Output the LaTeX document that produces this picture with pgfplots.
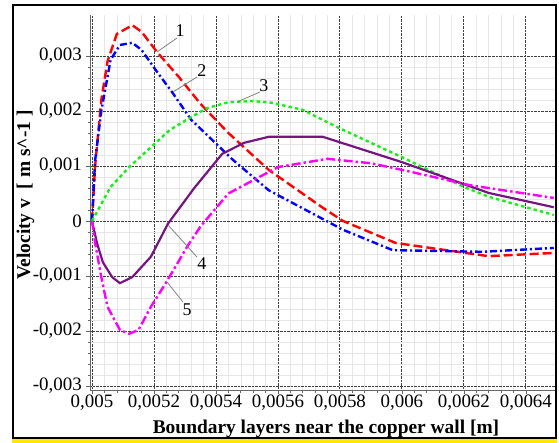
\documentclass[border=0pt]{standalone}
\usepackage{fontspec}
\setmainfont{Liberation Serif}
\usepackage{pgfplots}
\pgfplotsset{compat=1.18}
\definecolor{purp}{RGB}{118,20,128}
\definecolor{grn}{RGB}{30,235,30}
\definecolor{mag}{RGB}{250,0,250}
\begin{document}
\begin{tikzpicture}
\path[use as bounding box] (0,0) rectangle (559bp,443bp);
\fill[yellow!90!orange] (12bp,0.5bp) rectangle (557bp,3.5bp);
\draw[line width=2bp] (13bp,5bp) rectangle (556bp,438bp);
\begin{axis}[
  at={(90bp,53bp)}, anchor=south west, scale only axis,
  width=465bp, height=375bp,
  xmin=0.0049935, xmax=0.006494,
  ymin=-0.0030727, ymax=0.003745,
  axis x line*=bottom, axis y line*=left,
  axis line style={-, draw=gray!80!black, line width=0.8bp},
  scaled ticks=false,
  xtick={0.005,0.0052,0.0054,0.0056,0.0058,0.006,0.0062,0.0064},
  xticklabels={{0,005},{0,0052},{0,0054},{0,0056},{0,0058},{0,006},{0,0062},{0,0064}},
  ytick={-0.003,-0.002,-0.001,0,0.001,0.002,0.003},
  yticklabels={{-0,003},{-0,002},{-0,001},{0},{0,001},{0,002},{0,003}},
  minor x tick num=4, minor y tick num=4,
  tick align=outside,
  major tick length=4bp, minor tick length=2.5bp,
  tick style={gray!80!black, line width=0.6bp},
  tick label style={font=\fontsize{19}{22}\selectfont},
  xticklabel style={inner sep=1bp},
  yticklabel style={inner sep=4bp},
  grid=both,
  major grid style={black!75, densely dotted, line width=0.9bp},
  minor grid style={black!10, line width=0.5bp},
  xlabel={Boundary layers near the copper wall [m]},
  ylabel={Velocity v~~[ m s\textasciicircum-1 ]},
  label style={font=\fontsize{19.5}{22}\selectfont\bfseries},
  xlabel style={at={(rel axis cs:0.5075,-0.1147)}, anchor=base},
  ylabel style={at={(rel axis cs:-0.129,0.52)}, anchor=base, rotate=0},
]
% 1
\addplot[red, line width=2.4bp, dash pattern=on 9bp off 4bp] coordinates {
 (0.005,0) (0.00501,0.0010) (0.00503,0.0022) (0.00505,0.0029) (0.00508,0.0034)
 (0.00513,0.00356) (0.00516,0.00344) (0.00521,0.00307) (0.00528,0.00262)
 (0.00535,0.00213) (0.00544,0.0016) (0.00557,0.00093) (0.005745,0.00024)
 (0.00581,0.0) (0.00598,-0.0004) (0.00628,-0.00064) (0.00649,-0.00058)
};
% 2
\addplot[blue, line width=2.4bp, dash pattern=on 7bp off 3bp on 2bp off 3bp] coordinates {
 (0.005,0) (0.00501,0.0011) (0.00503,0.0020) (0.00506,0.00293) (0.00509,0.0032)
 (0.00513,0.00324) (0.00516,0.00311) (0.00521,0.00271) (0.00526,0.00233)
 (0.00532,0.00184) (0.005455,0.00111) (0.00557,0.00056) (0.00581,-0.00016)
 (0.00597,-0.00053) (0.00626,-0.00056) (0.00649,-0.00049)
};
% 3
\addplot[grn, line width=2.4bp, dash pattern=on 3.5bp off 3bp] coordinates {
 (0.005,0) (0.00506,0.00062) (0.00512,0.00098) (0.00525,0.00165) (0.00532,0.00189)
 (0.00537,0.00205) (0.00544,0.00216) (0.00552,0.00218) (0.00558,0.00215)
 (0.00568,0.00202) (0.00579,0.00171) (0.0060,0.00116) (0.0062,0.00062)
 (0.00628,0.00044) (0.00649,0.00011)
};
% 4
\addplot[purp, line width=2.2bp] coordinates {
 (0.005,0) (0.005016,-0.0004) (0.005035,-0.00075) (0.005065,-0.00102) (0.00509,-0.00113)
 (0.00513,-0.00102) (0.00519,-0.00065) (0.005245,-0.00005) (0.00533,0.0006)
 (0.00542,0.00122) (0.00549,0.00142) (0.00557,0.00153) (0.005745,0.00153) (0.006,0.00107)
 (0.00628,0.00051) (0.00649,0.00025)
};
% 5
\addplot[mag, line width=2.4bp, dash pattern=on 9bp off 3bp on 2.5bp off 3bp] coordinates {
 (0.005,0) (0.00501,-0.0004) (0.00503,-0.00102) (0.00505,-0.00156) (0.00509,-0.00198)
 (0.00512,-0.00205) (0.00515,-0.00198) (0.00519,-0.00156) (0.00524,-0.00111)
 (0.00531,-0.00044) (0.00535,-0.0001) (0.00544,0.0005) (0.0056,0.00098)
 (0.00576,0.00113) (0.0059,0.00105) (0.006,0.00093) (0.00622,0.00065) (0.00649,0.00042)
};
% curve numbers
\begin{scope}[gray, line width=0.8bp]
\draw (axis cs:0.0052097,0.003073) -- (axis cs:0.0052742,0.003327);
\draw (axis cs:0.0052613,0.002345) -- (axis cs:0.0053387,0.002618);
\draw (axis cs:0.0054677,0.002164) -- (axis cs:0.0055419,0.002345);
\draw (axis cs:0.0052452,-0.0000727) -- (axis cs:0.0053387,-0.000655);
\draw (axis cs:0.0052419,-0.001109) -- (axis cs:0.0052935,-0.001473);
\end{scope}
\begin{scope}[every node/.style={font=\fontsize{18}{20}\selectfont, inner sep=0pt}]
\node at (axis cs:0.0052839,0.003455) {1};
\node at (axis cs:0.0053548,0.002727) {2};
\node at (axis cs:0.0055548,0.002455) {3};
\node at (axis cs:0.0053548,-0.000782) {4};
\node at (axis cs:0.0053065,-0.001618) {5};
\end{scope}
\end{axis}
\end{tikzpicture}
\end{document}
